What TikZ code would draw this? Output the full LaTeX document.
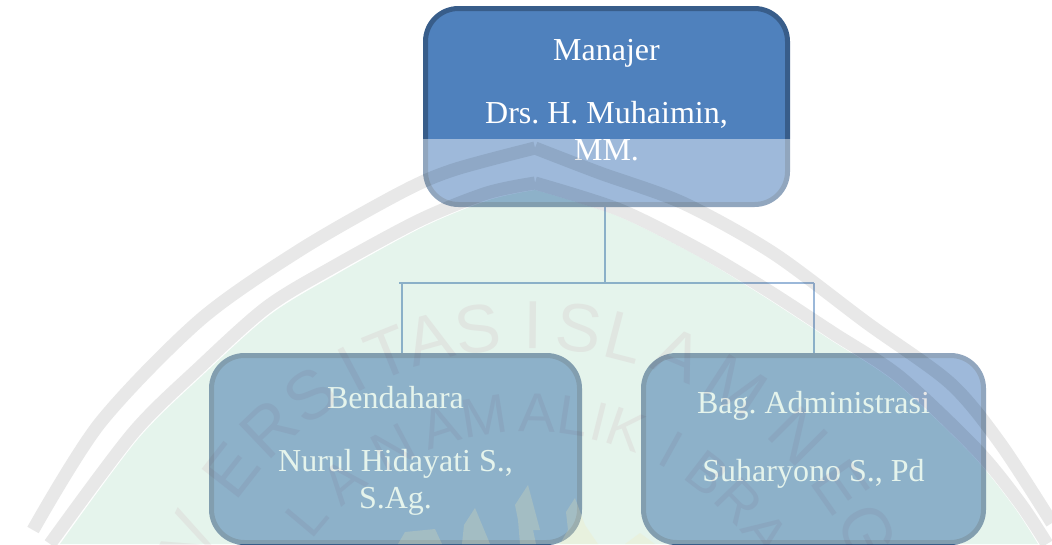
\documentclass[tikz,border=0pt]{standalone}
\usepackage{fontspec}
\setmainfont{Liberation Serif}
\newfontfamily\wmfont{Liberation Sans}
\definecolor{topfill}{HTML}{4F81BD}
\definecolor{topline}{HTML}{385D8A}
\definecolor{conn}{HTML}{4A7EBB}
\definecolor{wmgreen}{HTML}{E5F4EC}
\definecolor{wmband}{HTML}{E8E8E8}
\definecolor{wmletter}{HTML}{FAF1F4}
\definecolor{wmyellow}{HTML}{F5E8B0}
\tikzset{
  orgbox/.style={draw=topline,fill=topfill,line width=5pt,rounded corners=33pt,inner sep=0pt,align=center,text=white,font=\fontsize{32}{37}\selectfont\frenchspacing},
  orgline/.style={draw=conn,line width=2pt},
  bigletter/.style={font=\wmfont\fontsize{68}{68}\selectfont,text=wmletter,inner sep=0pt},
  smallletter/.style={font=\wmfont\fontsize{55}{55}\selectfont,text=wmletter,inner sep=0pt},
  wmstroke/.style={draw=wmband,line width=13pt}
}
\begin{document}
\begin{tikzpicture}[x=1pt,y=-1pt]
\useasboundingbox (0,0) rectangle (1052,544);
\clip (0,0) rectangle (1052,544);
\fill[white] (0,0) rectangle (1052,544);
% organisation chart
\coordinate (junction) at (605,283);
\coordinate (barleft) at (399,283);
\coordinate (barright) at (813.5,283);
\coordinate (dropleft) at (402,283);
\node[orgbox,minimum width=362pt,minimum height=196pt,text depth=14pt] (manajer) at (606.5,106.5) {Manajer\\[26pt]Drs. H. Muhaimin,\\MM.};
\node[orgbox,minimum width=368pt,minimum height=187pt,text depth=4pt] (bendahara) at (395.5,449) {Bendahara\\[26pt]Nurul Hidayati S.,\\S.Ag.};
\node[orgbox,minimum width=340pt,minimum height=187pt,text depth=26pt] (admin) at (813.5,449) {Bag. Administrasi\\[31pt]Suharyono S., Pd};
\draw[orgline] (junction |- manajer.south) -- (junction);
\draw[orgline] (barleft) -- (barright);
\draw[orgline] (dropleft) -- (dropleft |- bendahara.north);
\draw[orgline] (barright) -- (barright |- admin.north);
% translucent watermark page laid over the chart
\fill[white,opacity=.45] (0,139) rectangle (1052,544);
\begin{scope}[blend mode=multiply]
\fill[wmgreen] plot[smooth,tension=.5] coordinates {(60,544) (138,439) (205,373) (271,314) (337,274) (423,227) (489,200) (535,190)}
  -- plot[smooth,tension=.5] coordinates {(535,190) (617,216) (697,256) (763,296) (829,339) (896,383) (972,455) (1014,507) (1038,544)} -- cycle;
\draw[wmstroke] plot[smooth,tension=.5] coordinates {(33,530) (100,423) (200,320) (300,250) (400,193) (453,170) (535,148)}
  plot[smooth,tension=.5] coordinates {(535,148) (600,173) (683,203) (773,253) (867,323) (950,383) (1000,443) (1052,523)};
\draw[wmstroke] plot[smooth,tension=.5] coordinates {(50,544) (133,433) (200,367) (267,307) (333,267) (420,220) (487,193) (535,183)}
  plot[smooth,tension=.5] coordinates {(535,183) (620,210) (700,250) (767,290) (833,333) (900,377) (977,450) (1020,503) (1047,544)};
\foreach \a/\c in {-64/V,-52/E,-43.5/R,-35.5/S,-28/I,-22/T,-15.5/A,-8/S,0.5/I,7.5/S,14.5/L,23/A,33/M,45/N,55/E,63/G}
  \node[bigletter,rotate=-\a,name=outer\a] at ({530+379*sin(\a)},{704-379*cos(\a)}) {\c};
\foreach \a/\c in {-50/L,-40/A,-28/N,-18/A,-9/M,1.4/A,8.5/L,13.9/I,19.3/K,29/I,37.6/B,46/R,54/A}
  \node[smallletter,rotate=-\a,name=inner\a] at ({530+291*sin(\a)},{704-291*cos(\a)}) {\c};
\end{scope}
\begin{scope}[opacity=.22]
\fill[wmyellow] (462,544) -- (464,525) -- (475,508) -- (490,544) -- cycle;
\fill[wmyellow] (520,544) -- (518,520) -- (515,505) -- (528,485) -- (540,530) -- (533,530) -- (536,544) -- cycle;
\fill[wmyellow] (560,544) -- (568,530) -- (566,512) -- (575,498) -- (585,525) -- (598,544) -- cycle;
\fill[wmyellow] (398,544) -- (405,532) -- (435,529) -- (442,544) -- cycle;
\fill[wmyellow] (625,544) -- (640,533) -- (655,544) -- cycle;
\end{scope}
\end{tikzpicture}
\end{document}
